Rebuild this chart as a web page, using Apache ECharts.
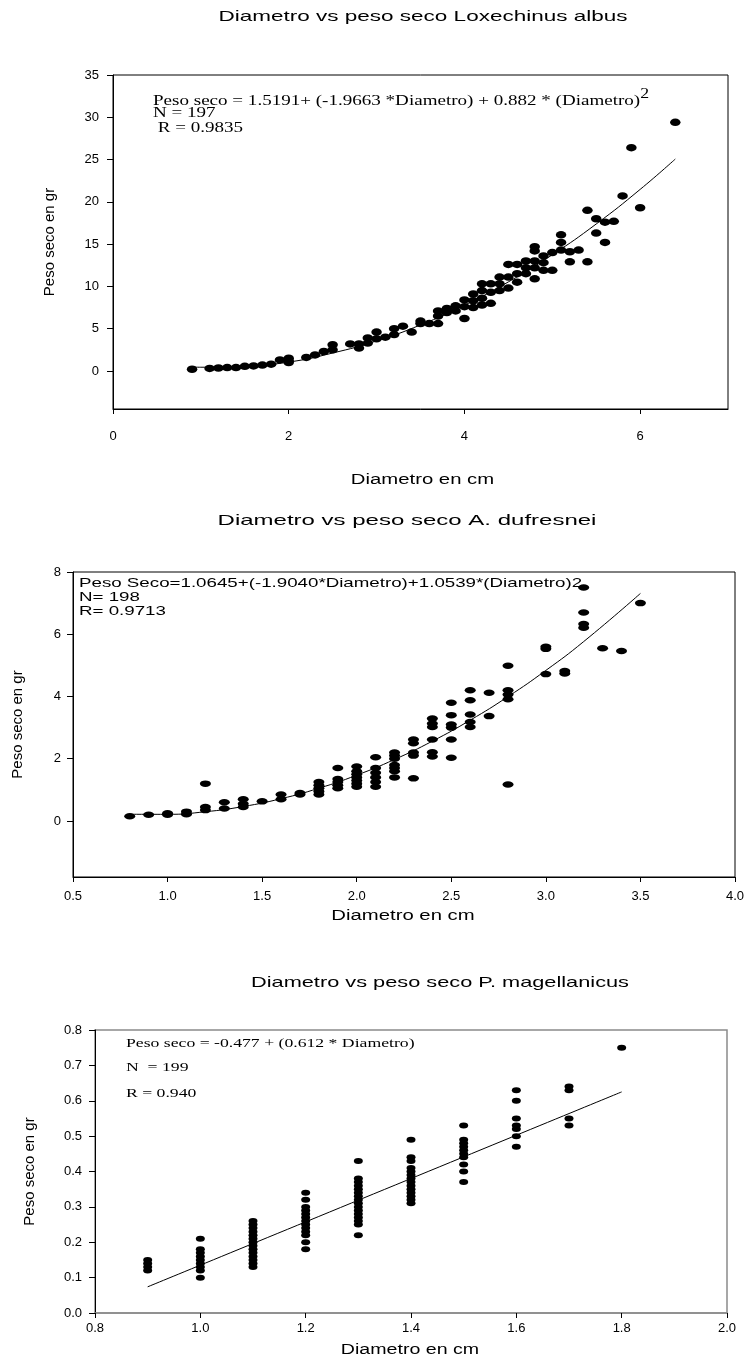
<!DOCTYPE html>
<html><head><meta charset="utf-8">
<script src="https://cdn.jsdelivr.net/npm/echarts@6/dist/echarts.min.js"></script>
<style>html,body{margin:0;padding:0;background:#fff}#c{width:749px;height:1361px}</style>
</head><body><div id="c"></div>
<script>
// ---------- Chart 1: Loxechinus albus ----------
const diam1 = [0.9,1.1,1.2,1.3,1.4,1.5,1.6,1.7,1.8,1.9,2.0,2.0,2.0,2.2,2.3,2.4,2.5,2.5,2.7,2.8,2.8,2.9,2.9,3.0,3.0,3.1,3.2,3.2,3.3,3.4,3.5,3.5,3.6,3.7,3.7,3.7,3.8,3.8,3.9,3.9,4.0,4.0,4.0,4.1,4.1,4.1,4.2,4.2,4.2,4.2,4.3,4.3,4.3,4.4,4.4,4.4,4.5,4.5,4.5,4.6,4.6,4.6,4.7,4.7,4.7,4.8,4.8,4.8,4.8,4.8,4.9,4.9,4.9,5.0,5.0,5.1,5.1,5.1,5.2,5.2,5.3,5.4,5.4,5.5,5.5,5.6,5.6,5.7,5.8,5.9,6.0,6.4];
const peso1 = [0.2,0.3,0.35,0.4,0.4,0.55,0.6,0.7,0.8,1.3,1.5,1.0,1.2,1.6,1.9,2.3,3.1,2.5,3.2,3.2,2.7,3.9,3.3,4.6,3.8,4.0,5.0,4.3,5.3,4.6,5.9,5.6,5.6,5.6,7.1,6.5,7.4,6.9,7.7,7.1,8.4,7.6,6.2,9.1,8.3,7.5,10.3,9.5,8.6,7.8,10.3,9.3,8.0,11.1,10.3,9.5,12.6,11.1,9.8,12.6,11.5,10.5,13.0,12.2,11.5,14.7,14.2,13.0,12.2,10.9,13.6,12.8,11.9,14.0,11.9,16.1,15.2,14.3,14.1,12.9,14.3,19.0,12.9,18.0,16.3,17.6,15.2,17.7,20.7,26.4,19.3,29.4];
const fitX1 = [0.9,1.0,1.5,2.0,2.5,3.0,3.5,4.0,4.5,5.0,5.5,6.0,6.4];
const fitY1 = [0.46,0.44,0.57,1.05,2.12,3.56,5.44,7.77,10.53,13.74,17.38,21.47,25.06];
const xTicks1 = [0,2,4,6];
const yTicks1 = [0,5,10,15,20,25,30,35];

// ---------- Chart 2: A. dufresnei ----------
const diam2 = [0.8,0.9,1.0,1.0,1.1,1.1,1.2,1.2,1.2,1.3,1.3,1.4,1.4,1.4,1.5,1.6,1.6,1.7,1.7,1.8,1.8,1.8,1.8,1.8,1.9,1.9,1.9,1.9,1.9,2.0,2.0,2.0,2.0,2.0,2.0,2.0,2.1,2.1,2.1,2.1,2.1,2.1,2.2,2.2,2.2,2.2,2.2,2.2,2.2,2.3,2.3,2.3,2.3,2.3,2.4,2.4,2.4,2.4,2.4,2.4,2.5,2.5,2.5,2.5,2.5,2.5,2.6,2.6,2.6,2.6,2.6,2.7,2.7,2.8,2.8,2.8,2.8,2.8,3.0,3.0,3.0,3.1,3.1,3.2,3.2,3.2,3.2,3.3,3.4,3.5];
const peso2 = [0.15,0.2,0.25,0.2,0.3,0.22,1.2,0.45,0.35,0.6,0.4,0.7,0.55,0.45,0.63,0.85,0.7,0.9,0.85,1.25,1.15,1.05,0.95,0.85,1.7,1.35,1.25,1.15,1.05,1.75,1.6,1.5,1.4,1.3,1.2,1.1,2.05,1.7,1.55,1.4,1.25,1.1,2.2,2.1,2.0,1.8,1.7,1.6,1.4,2.62,2.5,2.2,2.1,1.37,3.29,3.13,3.02,2.62,2.21,2.07,3.8,3.4,3.1,3.0,2.62,2.03,4.2,3.88,3.42,3.18,3.02,4.12,3.37,4.99,4.2,4.06,3.91,1.17,5.6,5.53,4.72,4.82,4.74,7.5,6.7,6.33,6.21,5.55,5.46,7.0];
const fitX2 = [0.8,1.0,1.2,1.4,1.6,1.8,2.0,2.2,2.4,2.6,2.8,3.0,3.2,3.5];
const fitY2 = [0.216,0.214,0.297,0.465,0.716,1.052,1.472,1.977,2.565,3.239,3.996,4.838,5.764,7.311];
const xTicks2 = [0.5,1.0,1.5,2.0,2.5,3.0,3.5,4.0];
const yTicks2 = [0,2,4,6,8];

// ---------- Chart 3: P. magellanicus ----------
const diam3 = [0.9,0.9,0.9,0.9,
 1.0,1.0,1.0,1.0,1.0,1.0,1.0,1.0,1.0,
 1.1,1.1,1.1,1.1,1.1,1.1,1.1,1.1,1.1,1.1,1.1,1.1,1.1,1.1,
 1.2,1.2,1.2,1.2,1.2,1.2,1.2,1.2,1.2,1.2,1.2,1.2,1.2,
 1.3,1.3,1.3,1.3,1.3,1.3,1.3,1.3,1.3,1.3,1.3,1.3,1.3,1.3,1.3,1.3,
 1.4,1.4,1.4,1.4,1.4,1.4,1.4,1.4,1.4,1.4,1.4,1.4,1.4,1.4,
 1.5,1.5,1.5,1.5,1.5,1.5,1.5,1.5,1.5,1.5,
 1.6,1.6,1.6,1.6,1.6,1.6,1.6,
 1.7,1.7,1.7,1.7,
 1.8];
const peso3 = [0.15,0.14,0.13,0.12,
 0.21,0.18,0.17,0.16,0.15,0.14,0.13,0.12,0.10,
 0.26,0.25,0.24,0.23,0.22,0.21,0.20,0.19,0.18,0.17,0.16,0.15,0.14,0.13,
 0.34,0.32,0.30,0.29,0.28,0.27,0.26,0.25,0.24,0.23,0.22,0.20,0.18,
 0.43,0.38,0.37,0.36,0.35,0.34,0.33,0.32,0.31,0.30,0.29,0.28,0.27,0.26,0.25,0.22,
 0.49,0.44,0.43,0.41,0.40,0.39,0.38,0.37,0.36,0.35,0.34,0.33,0.32,0.31,
 0.53,0.49,0.48,0.47,0.46,0.45,0.44,0.42,0.40,0.37,
 0.63,0.60,0.55,0.53,0.52,0.50,0.47,
 0.64,0.63,0.55,0.53,
 0.75];
const fitX3 = [0.9,1.8];
const fitY3 = [0.074,0.625];
const xTicks3 = [0.8,1.0,1.2,1.4,1.6,1.8,2.0];
const yTicks3 = [0.0,0.1,0.2,0.3,0.4,0.5,0.6,0.7,0.8];

const titles = ['Diametro vs peso seco Loxechinus albus', 'Diametro vs peso seco A. dufresnei', 'Diametro vs peso seco P. magellanicus'];
const xName = 'Diametro en cm';
const yName = 'Peso seco en gr';

const SANS = "'Liberation Sans', Arial, sans-serif";
const SERIF = "'Liberation Serif', 'Times New Roman', serif";

// plot-area layout (pixels)
const G = [
  {left: 113, top: 75, width: 615, height: 334},
  {left: 73, top: 572, width: 662, height: 305},
  {left: 95, top: 1030, width: 632, height: 283}
];

const pairs = (xs, ys) => xs.map((x, i) => [x, ys[i]]);

function xAx(gi, min, max, ticks, dec, labelMargin, lineColor) {
  return {
    type: 'value', gridIndex: gi, min: min, max: max,
    axisLine: {show: true, onZero: false, lineStyle: {color: lineColor || '#000', width: lineColor ? 1.5 : 1}},
    axisTick: {show: true, inside: false, length: 5, customValues: ticks, lineStyle: {color: '#000'}},
    axisLabel: {show: true, customValues: ticks, margin: labelMargin, color: '#000', fontSize: 13, fontFamily: SANS,
      formatter: v => dec ? Number(v).toFixed(dec) : String(v)},
    splitLine: {show: false}
  };
}
function yAx(gi, min, max, ticks, dec, labelMargin, nameGap) {
  return {
    type: 'value', gridIndex: gi, min: min, max: max,
    axisLine: {show: true, onZero: false, lineStyle: {color: '#000', width: 1}},
    axisTick: {show: true, inside: false, length: 6, customValues: ticks, lineStyle: {color: '#000'}},
    axisLabel: {show: true, customValues: ticks, margin: labelMargin, color: '#000', fontSize: 13, fontFamily: SANS,
      formatter: v => dec ? Number(v).toFixed(dec) : String(v)},
    splitLine: {show: false},
    name: yName, nameLocation: 'middle', nameGap: nameGap, nameRotate: 90,
    nameTextStyle: {color: '#000', fontSize: 15, fontFamily: SANS}
  };
}

function scatter(gi, xs, ys, size) {
  return {type: 'scatter', xAxisIndex: gi, yAxisIndex: gi, data: pairs(xs, ys),
    symbol: 'circle', symbolSize: size, itemStyle: {color: '#000', opacity: 1}, silent: true, z: 3};
}
function fit(gi, xs, ys) {
  return {type: 'line', xAxisIndex: gi, yAxisIndex: gi, data: pairs(xs, ys), smooth: true,
    showSymbol: false, symbol: 'none', lineStyle: {color: '#000', width: 1}, silent: true, z: 2};
}
function txt(x, y, text, font, sx, align) {
  return {type: 'text', x: x, y: y, scaleX: sx, silent: true,
    style: {text: text, font: font, fill: '#000', verticalAlign: 'middle', align: align || 'left'}};
}

const chart = echarts.init(document.getElementById('c'), null, {renderer: 'canvas'});
chart.setOption({
  backgroundColor: '#fff',
  animation: false,
  grid: [
    Object.assign({show: true, borderColor: '#000', borderWidth: 1}, G[0]),
    Object.assign({show: true, borderColor: '#000', borderWidth: 1}, G[1]),
    Object.assign({show: true, borderColor: '#8a8a8a', borderWidth: 1.5}, G[2])
  ],
  xAxis: [
    xAx(0, 0, 7, xTicks1, 0, 21),
    xAx(1, 0.5, 4.0, xTicks2, 1, 13),
    xAx(2, 0.8, 2.0, xTicks3, 1, 9, '#8a8a8a')
  ],
  yAxis: [
    yAx(0, -4.5, 35, yTicks1, 0, 14, 56),
    yAx(1, -1.8, 8, yTicks2, 0, 12, 48),
    yAx(2, 0, 0.8, yTicks3, 1, 13, 58)
  ],
  series: [
    fit(0, fitX1, fitY1), scatter(0, diam1, peso1, [10.5, 7.5]),
    fit(1, fitX2, fitY2), scatter(1, diam2, peso2, [11, 6.5]),
    fit(2, fitX3, fitY3), scatter(2, diam3, peso3, [9, 6])
  ],
  graphic: [
    // titles
    txt(423, 17, titles[0], '15px ' + SANS, 1.5, 'center'),
    txt(407, 521, titles[1], '15px ' + SANS, 1.6, 'center'),
    txt(440, 983, titles[2], '15px ' + SANS, 1.45, 'center'),
    // x-axis names
    txt(G[0].left + G[0].width / 2 + 2, 480, xName, '14px ' + SANS, 1.45, 'center'),
    txt(G[1].left + G[1].width / 2 - 1, 916, xName, '14px ' + SANS, 1.45, 'center'),
    txt(G[2].left + G[2].width / 2 - 1, 1350, xName, '14px ' + SANS, 1.4, 'center'),
    // annotations chart 1
    {type: 'text', x: 153, y: 98, scaleX: 1.27, silent: true, style: {
      text: '{m|Peso seco = 1.5191+ (-1.9663 *Diametro) + 0.882 * (Diametro)}{s|2}',
      verticalAlign: 'middle', fill: '#000',
      rich: {m: {fontFamily: SERIF, fontSize: 15, lineHeight: 22, verticalAlign: 'bottom', fill: '#000'},
             s: {fontFamily: SERIF, fontSize: 14, lineHeight: 12, verticalAlign: 'top', fill: '#000'}}}},
    txt(153, 113, 'N = 197', '15px ' + SERIF, 1.27),
    txt(153, 128, ' R = 0.9835', '15px ' + SERIF, 1.27),
    // annotations chart 2
    txt(79, 583, 'Peso Seco=1.0645+(-1.9040*Diametro)+1.0539*(Diametro)2', '13px ' + SANS, 1.44),
    txt(79, 597, 'N= 198', '13px ' + SANS, 1.44),
    txt(79, 611, 'R= 0.9713', '13px ' + SANS, 1.44),
    // annotations chart 3
    txt(126, 1044, 'Peso seco = -0.477 + (0.612 * Diametro)', '13px ' + SERIF, 1.36),
    txt(126, 1068, 'N  = 199', '13px ' + SERIF, 1.36),
    txt(126, 1094, 'R = 0.940', '13px ' + SERIF, 1.36)
  ]
});
</script>
</body></html>
